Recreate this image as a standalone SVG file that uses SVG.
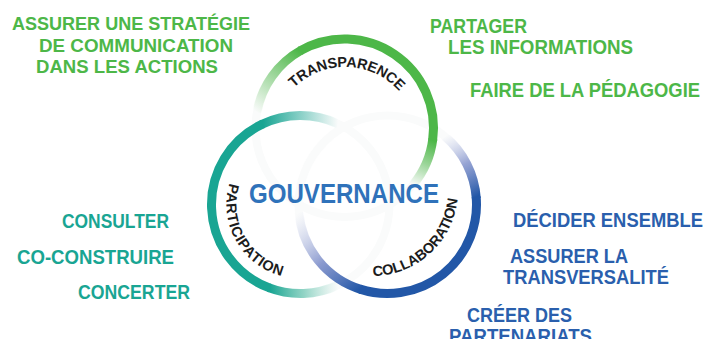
<svg xmlns="http://www.w3.org/2000/svg" xmlns:xlink="http://www.w3.org/1999/xlink" width="705" height="339" viewBox="0 0 705 339">
<style>
.ring{fill:none;stroke-width:9;stroke-linecap:butt}
.ghost{fill:none;stroke:#fafbfb;stroke-width:8}
.lbl{font-family:"Liberation Sans",Arial,sans-serif;font-weight:bold}
.arc{font-family:"Liberation Sans",Arial,sans-serif;font-weight:bold;font-size:14.5px;fill:#1c1c1c}
.green{fill:#4db748}
.teal{fill:#19a593}
.blue{fill:#2a5fad}
</style>
<defs>
<linearGradient id="gL" gradientUnits="userSpaceOnUse" x1="256.85" y1="112.55" x2="300" y2="50.93">
<stop offset="0" stop-color="#4db748" stop-opacity="0"/>
<stop offset="0.55" stop-color="#4db748" stop-opacity="0.55"/>
<stop offset="1" stop-color="#4db748" stop-opacity="1"/>
</linearGradient>
<linearGradient id="gR" gradientUnits="userSpaceOnUse" x1="432.64" y1="140.39" x2="412.68" y2="185.21">
<stop offset="0" stop-color="#4db748" stop-opacity="1"/>
<stop offset="0.5" stop-color="#4db748" stop-opacity="0.55"/>
<stop offset="1" stop-color="#4db748" stop-opacity="0"/>
</linearGradient>
<linearGradient id="tT" gradientUnits="userSpaceOnUse" x1="262.89" y1="123.84" x2="338.11" y2="123.84">
<stop offset="0" stop-color="#19a593" stop-opacity="1"/>
<stop offset="0.5" stop-color="#19a593" stop-opacity="0.5"/>
<stop offset="1" stop-color="#19a593" stop-opacity="0"/>
</linearGradient>
<linearGradient id="tB" gradientUnits="userSpaceOnUse" x1="270.06" y1="288.13" x2="338.11" y2="285.16">
<stop offset="0" stop-color="#19a593" stop-opacity="1"/>
<stop offset="0.5" stop-color="#3fb59b" stop-opacity="0.55"/>
<stop offset="1" stop-color="#6cc6ad" stop-opacity="0"/>
</linearGradient>
<linearGradient id="bT" gradientUnits="userSpaceOnUse" x1="444.71" y1="136.32" x2="476.16" y2="196.74">
<stop offset="0" stop-color="#aab3de" stop-opacity="0"/>
<stop offset="0.5" stop-color="#7486c6" stop-opacity="0.75"/>
<stop offset="1" stop-color="#2257a7" stop-opacity="1"/>
</linearGradient>
<linearGradient id="bB" gradientUnits="userSpaceOnUse" x1="360" y1="289.15" x2="298.84" y2="212.26">
<stop offset="0" stop-color="#2257a7" stop-opacity="1"/>
<stop offset="0.45" stop-color="#6f82c4" stop-opacity="0.8"/>
<stop offset="1" stop-color="#b3bbe2" stop-opacity="0"/>
</linearGradient>
<path id="pTrans" d="M 281.78 103.5 A 73 73 0 0 1 408.22 103.5"/>
<path id="pPart" d="M 258.05 143.88 A 74 74 0 0 0 331.77 271.57"/>
<path id="pColl" d="M 311.19 250.81 A 86 86 0 0 0 437.88 134.72"/>
</defs>
<rect width="705" height="339" fill="#ffffff"/>

<g id="ghosts">
<circle class="ghost" cx="344.5" cy="128" r="89"/>
<circle class="ghost" cx="300.5" cy="204.5" r="89"/>
<circle class="ghost" cx="387.5" cy="204.5" r="89"/>
</g>

<g id="transparence">
<path class="ring" stroke="#4db748" d="M 300 50.93 A 89 89 0 0 1 432.64 140.39"/>
<path class="ring" stroke="url(#gL)" d="M 256.85 112.55 A 89 89 0 0 1 301.35 50.16"/>
<path class="ring" stroke="url(#gR)" d="M 432.83 138.85 A 89 89 0 0 1 412.68 185.21"/>
<text class="arc" letter-spacing="-0.2"><textPath xlink:href="#pTrans" href="#pTrans" startOffset="51.5%" text-anchor="middle">TRANSPARENCE</textPath></text>
</g>

<g id="participation">
<path class="ring" stroke="#19a593" d="M 262.89 123.84 A 89 89 0 0 0 270.06 288.13"/>
<path class="ring" stroke="url(#tT)" d="M 261.48 124.51 A 89 89 0 0 1 338.11 123.84"/>
<path class="ring" stroke="url(#tB)" d="M 268.6 287.59 A 89 89 0 0 0 338.11 285.16"/>
<text class="arc" letter-spacing="0.75"><textPath xlink:href="#pPart" href="#pPart" startOffset="49.7%" text-anchor="middle">PARTICIPATION</textPath></text>
</g>

<g id="collaboration">
<path class="ring" stroke="#2257a7" d="M 476.16 196.74 A 89 89 0 0 1 360 289.15"/>
<path class="ring" stroke="url(#bT)" d="M 444.71 136.32 A 89 89 0 0 1 476.28 198.29"/>
<path class="ring" stroke="url(#bB)" d="M 361.48 289.61 A 89 89 0 0 1 298.84 212.26"/>
<text class="arc" letter-spacing="-0.1"><textPath xlink:href="#pColl" href="#pColl" startOffset="49.9%" text-anchor="middle">COLLABORATION</textPath></text>
</g>

<g id="gouvernance">
<text class="lbl" x="249" y="203.3" font-size="28.5" fill="#2f72ba" textLength="190" lengthAdjust="spacingAndGlyphs">GOUVERNANCE</text>
</g>

<g id="transparence-actions" class="lbl green" font-size="18.5">
<text x="12" y="30" textLength="238" lengthAdjust="spacingAndGlyphs">ASSURER UNE STRATÉGIE</text>
<text x="39" y="51.5" textLength="194" lengthAdjust="spacingAndGlyphs">DE COMMUNICATION</text>
<text x="36" y="73" textLength="182" lengthAdjust="spacingAndGlyphs">DANS LES ACTIONS</text>
<text x="430" y="33" font-size="19.5" textLength="97" lengthAdjust="spacingAndGlyphs">PARTAGER</text>
<text x="448" y="53.5" font-size="19.5" textLength="185" lengthAdjust="spacingAndGlyphs">LES INFORMATIONS</text>
<text x="470" y="97" font-size="19.5" textLength="230" lengthAdjust="spacingAndGlyphs">FAIRE DE LA PÉDAGOGIE</text>
</g>

<g id="participation-actions" class="lbl teal" font-size="21">
<text x="62" y="227.5" textLength="107" lengthAdjust="spacingAndGlyphs">CONSULTER</text>
<text x="17" y="263.5" textLength="157" lengthAdjust="spacingAndGlyphs">CO-CONSTRUIRE</text>
<text x="78" y="299" textLength="112" lengthAdjust="spacingAndGlyphs">CONCERTER</text>
</g>

<g id="collaboration-actions" class="lbl blue" font-size="19.5">
<text x="513" y="227" textLength="190" lengthAdjust="spacingAndGlyphs">DÉCIDER ENSEMBLE</text>
<text x="510" y="263" textLength="118" lengthAdjust="spacingAndGlyphs">ASSURER LA</text>
<text x="503" y="284" textLength="166" lengthAdjust="spacingAndGlyphs">TRANSVERSALITÉ</text>
<text x="467" y="322" textLength="105" lengthAdjust="spacingAndGlyphs">CRÉER DES</text>
<text x="449" y="343" textLength="143" lengthAdjust="spacingAndGlyphs">PARTENARIATS</text>
</g>
</svg>
